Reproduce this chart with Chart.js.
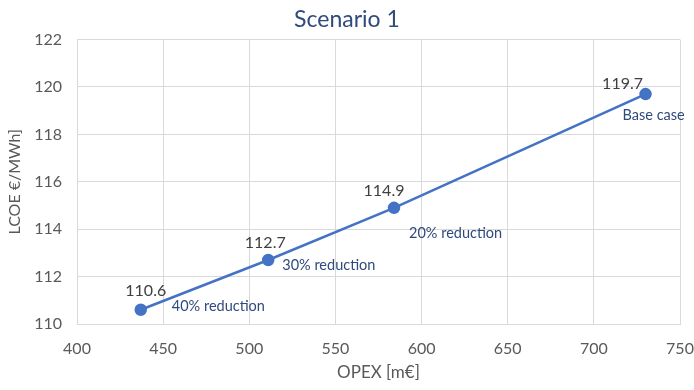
<!DOCTYPE html>
<html>
<head>
<meta charset="utf-8">
<script src="https://cdn.jsdelivr.net/npm/chart.js@4"></script>
<style>
  html, body { margin: 0; padding: 0; background: #fff; }
  #wrap { width: 694px; height: 390px; }
</style>
</head>
<body>
<div id="wrap"><canvas id="chart"></canvas></div>
<script>
// data
const opex = [437, 511, 584, 730];
const lcoe = [110.6, 112.7, 114.9, 119.7];
const caseLabels = ["40% reduction", "30% reduction", "20% reduction", "Base case"];
const xTicks = [400, 450, 500, 550, 600, 650, 700, 750];
const yTicks = [110, 112, 114, 116, 118, 120, 122];

const FONT = "Lato, 'Open Sans', sans-serif";

// label offsets around each point (value label / case label)
const valueOffsets = [[5, -19], [-3, -17], [-10, -17], [-23, -10]];
const caseOffsets = [[31, -3], [14, 5], [15, 25], [-23, 21]];

const pointLabels = {
    id: "pointLabels",
    afterDatasetsDraw(chart) {
        let ctx = chart.ctx;
        let meta = chart.getDatasetMeta(0);
        ctx.save();
        ctx.textBaseline = "middle";
        meta.data.forEach((pt, i) => {
            ctx.font = "16px " + FONT;
            ctx.fillStyle = "#404040";
            ctx.textAlign = "center";
            ctx.fillText(lcoe[i].toFixed(1), pt.x + valueOffsets[i][0], pt.y + valueOffsets[i][1]);

            ctx.font = "14.5px " + FONT;
            ctx.fillStyle = "#2f4a7c";
            ctx.textAlign = "left";
            ctx.fillText(caseLabels[i], pt.x + caseOffsets[i][0], pt.y + caseOffsets[i][1]);
        });
        ctx.restore();
    }
};

new Chart(document.getElementById("chart"), {
    type: "line",
    data: {
        datasets: [{
            data: opex.map((x, i) => ({ x: x, y: lcoe[i] })),
            borderColor: "#4472c4",
            backgroundColor: "#4472c4",
            borderWidth: 2.5,
            pointRadius: 5,
            pointHoverRadius: 5,
            fill: false,
            tension: 0
        }]
    },
    options: {
        responsive: true,
        maintainAspectRatio: false,
        animation: false,
        layout: { padding: { left: 0, right: 0, top: 0, bottom: 0 } },
        plugins: {
            legend: { display: false },
            tooltip: { enabled: false },
            title: {
                display: true,
                text: "Scenario 1",
                color: "#2f4a7c",
                font: { family: FONT, size: 23, weight: "normal" },
                padding: { top: 6, bottom: 6 }
            }
        },
        scales: {
            x: {
                type: "linear",
                min: xTicks[0],
                max: xTicks[xTicks.length - 1],
                afterBuildTicks: axis => { axis.ticks = xTicks.map(v => ({ value: v })); },
                afterFit: axis => {
                    axis.height = 66;
                    axis.paddingLeft = 0;
                    axis.paddingRight = 14;
                },
                grid: { color: "#d9d9d9", lineWidth: 1, drawTicks: false },
                border: { color: "#d9d9d9" },
                ticks: { color: "#595959", font: { family: FONT, size: 16 }, padding: 15 },
                title: {
                    display: true,
                    text: "OPEX [m€]",
                    color: "#595959",
                    font: { family: FONT, size: 17 },
                    padding: { top: 4, bottom: 7 }
                }
            },
            y: {
                min: yTicks[0],
                max: yTicks[yTicks.length - 1],
                afterBuildTicks: axis => { axis.ticks = yTicks.map(v => ({ value: v })); },
                afterFit: axis => { axis.width = 77; },
                grid: { color: "#d9d9d9", lineWidth: 1, drawTicks: false },
                border: { color: "#d9d9d9" },
                ticks: { color: "#595959", font: { family: FONT, size: 16 }, padding: 15 },
                title: {
                    display: true,
                    text: "LCOE €/MWh]",
                    color: "#595959",
                    font: { family: FONT, size: 16 },
                    padding: { top: 5, bottom: 0 }
                }
            }
        }
    },
    plugins: [pointLabels]
});
</script>
</body>
</html>
